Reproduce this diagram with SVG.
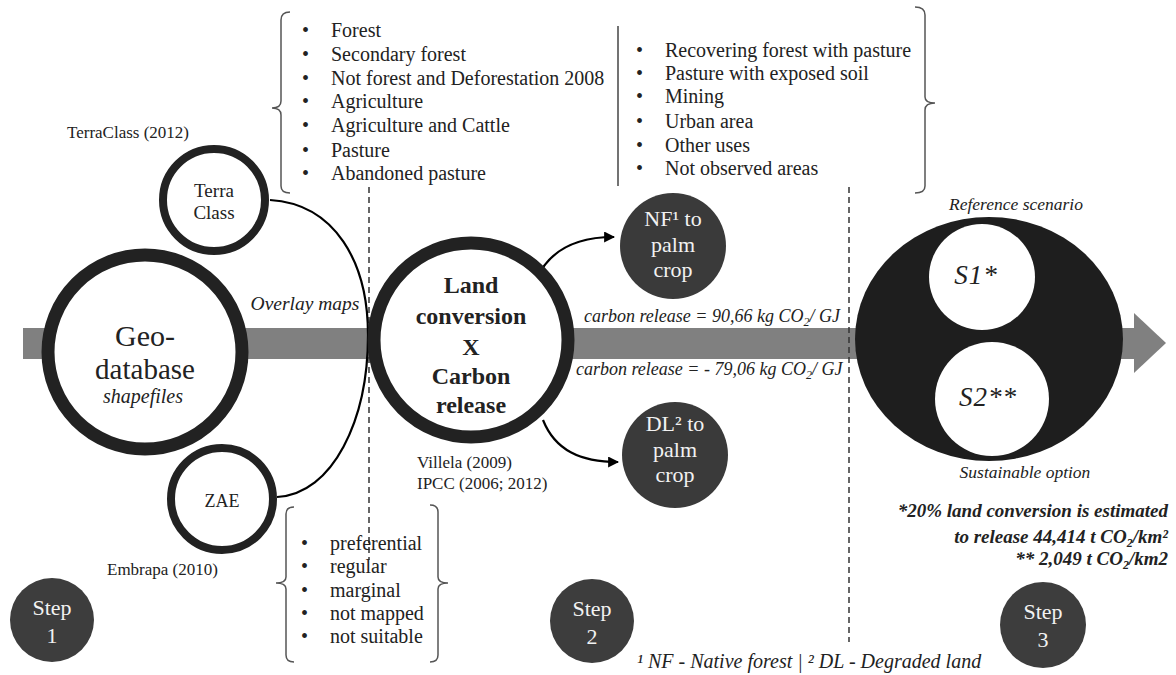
<svg xmlns="http://www.w3.org/2000/svg" width="1176" height="675" viewBox="0 0 1176 675">
<defs>
<style>
text{font-family:"Liberation Serif","Times New Roman",serif;fill:#222}
.it{font-style:italic}
.lst{font-size:20px}
.ref{font-size:17px}
.wc{fill:#fff;stroke:#222}
.dk{fill:#3a3a3a}
.wt{fill:#f2f2f2;font-size:22px;text-anchor:middle}
.br{fill:none;stroke:#555;stroke-width:1.5}
.dash{stroke:#333;stroke-width:1.5;stroke-dasharray:6 4}
.con{fill:none;stroke:#000;stroke-width:2.2}
.mid{text-anchor:middle}
.end{text-anchor:end}
</style>
<marker id="ah" viewBox="0 0 10 10" refX="9" refY="5" markerWidth="5" markerHeight="5" orient="auto" markerUnits="strokeWidth">
<path d="M0,0 L10,5 L0,10 z" fill="#000"/>
</marker>
</defs>
<rect width="1176" height="675" fill="#fff"/>

<g id="band">
<rect x="23" y="328" width="1113" height="31" fill="#808080"/>
<polygon points="1134,313 1166,343 1134,373" fill="#808080"/>
</g>

<g id="dividers">
<line class="dash" x1="369" y1="187" x2="369" y2="560"/>
<line class="dash" x1="849" y1="187" x2="849" y2="642"/>
</g>

<g id="connectors">
<path class="con" d="M270,200 C335,204 368,262 368,335 C368,420 333,494 277,497"/>
<path class="con" d="M537,278 C550,250 575,237 614,237" marker-end="url(#ah)"/>
<path class="con" d="M543,420 C555,450 580,462 618,462" marker-end="url(#ah)"/>
<text class="it mid" x="305" y="310" font-size="19.5">Overlay maps</text>
</g>

<g id="geo">
<circle class="wc" cx="145" cy="352" r="97" stroke-width="13"/>
<text class="mid" x="145" y="346" font-size="30">Geo-</text>
<text class="mid" x="145" y="379" font-size="29">database</text>
<text class="mid it" x="143" y="403" font-size="20">shapefiles</text>
</g>

<g id="terraclass">
<circle class="wc" cx="214" cy="200" r="51" stroke-width="8"/>
<text class="mid" x="214" y="197" font-size="19">Terra</text>
<text class="mid" x="214" y="219" font-size="19">Class</text>
<text class="ref" x="67" y="138">TerraClass (2012)</text>
</g>

<g id="zae">
<circle class="wc" cx="222" cy="499" r="51" stroke-width="8"/>
<text class="mid" x="222" y="507" font-size="18">ZAE</text>
<text class="ref" x="107" y="575" font-size="17.5">Embrapa (2010)</text>
</g>

<g id="terraclass-list">
<path class="br" d="M290,12 Q281,12 281,20 L281,101 Q281,108 272,108 Q281,108 281,115 L281,186 Q281,193 290,193"/>
<path class="br" d="M915,7 Q925,7 925,15 L925,97 Q925,103 935,103 Q925,103 925,110 L925,186 Q925,193 915,193"/>
<line x1="618" y1="26" x2="618" y2="186" stroke="#444" stroke-width="1.5"/>
<g class="lst">
<text x="302" y="37">•</text><text x="331" y="37">Forest</text>
<text x="302" y="61">•</text><text x="331" y="61">Secondary  forest</text>
<text x="302" y="85">•</text><text x="331" y="85">Not forest and Deforestation 2008</text>
<text x="302" y="108">•</text><text x="331" y="108">Agriculture</text>
<text x="302" y="132">•</text><text x="331" y="132">Agriculture and Cattle</text>
<text x="302" y="157">•</text><text x="331" y="157">Pasture</text>
<text x="302" y="180">•</text><text x="331" y="180">Abandoned  pasture</text>
<text x="636" y="57">•</text><text x="665" y="57">Recovering  forest with pasture</text>
<text x="636" y="80">•</text><text x="665" y="80">Pasture with exposed  soil</text>
<text x="636" y="103">•</text><text x="665" y="103">Mining</text>
<text x="636" y="128">•</text><text x="665" y="128">Urban  area</text>
<text x="636" y="152">•</text><text x="665" y="152">Other uses</text>
<text x="636" y="175">•</text><text x="665" y="175">Not observed  areas</text>
</g>
</g>

<g id="zae-list">
<path class="br" d="M294,507 Q286,507 286,514 L286,577 Q286,583 276,583 Q286,583 286,589 L286,655 Q286,662 294,662"/>
<path class="br" d="M430,505 Q438,505 438,512 L438,577 Q438,583 448,583 Q438,583 438,589 L438,655 Q438,662 430,662"/>
<g class="lst">
<text x="301" y="550">•</text><text x="330" y="550">preferential</text>
<text x="301" y="573">•</text><text x="330" y="573">regular</text>
<text x="301" y="597">•</text><text x="330" y="597">marginal</text>
<text x="301" y="620">•</text><text x="330" y="620">not mapped</text>
<text x="301" y="643">•</text><text x="330" y="643">not suitable</text>
</g>
</g>

<g id="land-conversion">
<circle class="wc" cx="471" cy="340" r="97" stroke-width="13"/>
<g class="mid" font-size="24" font-weight="bold">
<text x="471" y="293">Land</text>
<text x="471" y="324">conversion</text>
<text x="471" y="355">X</text>
<text x="471" y="384">Carbon</text>
<text x="471" y="413">release</text>
</g>
<text class="ref" x="417" y="468">Villela  (2009)</text>
<text class="ref" x="417" y="489">IPCC (2006;  2012)</text>
</g>

<g id="carbon-labels">
<text class="it" x="584" y="322" font-size="18">carbon release = 90,66 kg CO<tspan font-size="12" dy="4">2</tspan><tspan dy="-4">/ GJ</tspan></text>
<text class="it" x="576" y="375" font-size="18">carbon release = - 79,06 kg CO<tspan font-size="12" dy="4">2</tspan><tspan dy="-4">/ GJ</tspan></text>
</g>

<g id="nf">
<circle class="dk" cx="673" cy="246" r="53"/>
<text class="wt" x="673" y="226">NF¹ to</text>
<text class="wt" x="673" y="252">palm</text>
<text class="wt" x="673" y="277">crop</text>
</g>

<g id="dl">
<circle class="dk" cx="675" cy="455" r="53"/>
<text class="wt" x="675" y="431">DL² to</text>
<text class="wt" x="675" y="457">palm</text>
<text class="wt" x="675" y="482">crop</text>
</g>

<g id="scenarios">
<ellipse cx="989" cy="339" rx="134" ry="122" fill="#1e1e1e"/>
<circle cx="982" cy="277" r="53" fill="#fff"/>
<circle cx="992" cy="399" r="57" fill="#fff"/>
<text class="mid it" x="976" y="284" font-size="27" letter-spacing="1">S1*</text>
<text class="mid it" x="988" y="406" font-size="27" letter-spacing="1">S2**</text>
<text class="mid it" x="1016" y="210" font-size="17.5">Reference scenario</text>
<text class="mid it" x="1025" y="478" font-size="17.5">Sustainable option</text>
</g>

<g id="notes" class="it end" font-weight="bold" font-size="19">
<text x="1168" y="517">*20% land conversion  is estimated</text>
<text x="1168" y="543">to release 44,414 t CO<tspan font-size="12" dy="4">2</tspan><tspan dy="-4">/km²</tspan></text>
<text x="1168" y="565">** 2,049 t CO<tspan font-size="12" dy="4">2</tspan><tspan dy="-4">/km2</tspan></text>
</g>

<g id="steps">
<g id="step1"><circle fill="#3d3d3d" cx="52" cy="620" r="42"/><text class="wt" x="52" y="615">Step</text><text class="wt" x="52" y="643">1</text></g>
<g id="step2"><circle fill="#3d3d3d" cx="592" cy="621" r="42"/><text class="wt" x="592" y="616">Step</text><text class="wt" x="592" y="644">2</text></g>
<g id="step3"><circle fill="#3d3d3d" cx="1043" cy="625" r="43"/><text class="wt" x="1043" y="619">Step</text><text class="wt" x="1043" y="647">3</text></g>
</g>

<text class="it" x="637" y="668" font-size="20">¹ NF - Native forest | ² DL - Degraded land</text>
</svg>
